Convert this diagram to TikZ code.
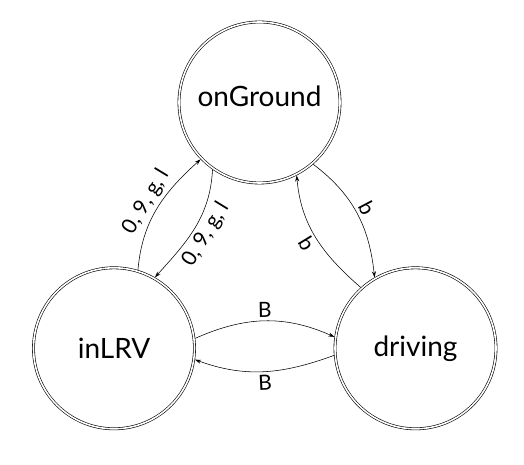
\documentclass[tikz,border=0pt]{standalone}
\usepackage{fontspec}
\setmainfont{Lato}
\usetikzlibrary{arrows.meta}
\begin{document}
\begin{tikzpicture}[x=1pt,y=1pt,
  state/.style={circle,draw,double,double distance=1.6pt,line width=0.6pt,
    minimum size=161pt,inner sep=0pt,outer sep=1.4pt,font=\fontsize{28}{30}\selectfont},
  trans/.style={line width=0.55pt,-{Stealth[length=6pt,width=4pt]}},
  lbl/.style={font=\fontsize{21}{23}\selectfont,sloped,auto,inner sep=3pt}]
\useasboundingbox (0,0) rectangle (524,465);
\node[state] (onGround) at (259.5,362.5) {\raisebox{6pt}[\height][\depth]{onGround}};
\node[state] (inLRV) at (114,116.7) {inLRV};
\node[state] (driving) at (415.5,116.7) {driving};
\draw[trans] (inLRV.73) to[out=85,in=222] node[lbl] {0, 9, g, l} (onGround.-136);
\draw[trans] (onGround.-125) to[out=267,in=48] node[lbl,swap] {0, 9, g, l} (inLRV.60);
\draw[trans] (onGround.-49) to[out=-37,in=96] node[lbl] {b} (driving.120);
\draw[trans] (driving.132) to[out=139,in=-85] node[lbl,swap] {b} (onGround.-63);
\draw[trans] (inLRV.7.5) to[out=24,in=156] node[lbl] {B} (driving.172);
\draw[trans] (driving.185) to[out=200,in=-20] node[lbl,swap] {B} (inLRV.-8);
\end{tikzpicture}
\end{document}
